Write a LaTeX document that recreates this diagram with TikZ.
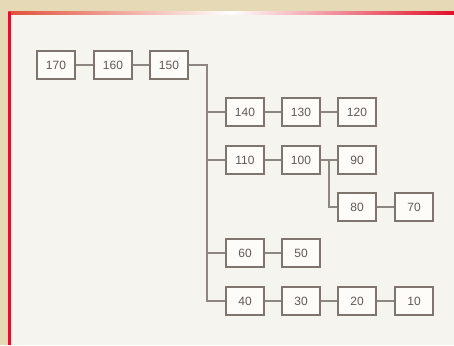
\documentclass[tikz,border=0pt]{standalone}
\usepackage{fontspec}
\setmainfont{Liberation Sans}
\definecolor{tan}{HTML}{E6D9B5}
\definecolor{panel}{HTML}{F5F4EE}
\definecolor{frame}{HTML}{E0102A}
\definecolor{topedge}{HTML}{E2503A}
\definecolor{boxline}{HTML}{7E766E}
\definecolor{boxfill}{HTML}{FDFCF8}
\definecolor{boxtext}{HTML}{5E5A55}
\definecolor{wire}{HTML}{8E8680}
\tikzset{
  x=1pt, y=-1pt,
  numbox/.style={draw=boxline, line width=1.4pt, fill=boxfill,
    minimum width=38pt, minimum height=28pt, inner sep=0pt,
    text=boxtext, font=\fontsize{12}{12}\selectfont},
  wirel/.style={draw=wire, line width=1.2pt}
}
\begin{document}
\begin{tikzpicture}
\useasboundingbox (0,0) rectangle (454,345);
% page background and panel
\fill[tan] (0,0) rectangle (454,345);
\fill[panel] (8,12) rectangle (454,345);
\shade[left color=topedge, right color=frame, middle color=white] (8,12) rectangle (454,15);
\fill[frame] (8,12) rectangle (11,345);

% boxes
\node[numbox] (n170) at (56,65) {170};
\node[numbox] (n160) at (113,65) {160};
\node[numbox] (n150) at (169,65) {150};

\node[numbox] (n140) at (245,112) {140};
\node[numbox] (n130) at (301,112) {130};
\node[numbox] (n120) at (357,112) {120};

\node[numbox] (n110) at (245,160) {110};
\node[numbox] (n100) at (301,160) {100};
\node[numbox] (n90)  at (357,160) {90};
\node[numbox] (n80)  at (357,207) {80};
\node[numbox] (n70)  at (414,207) {70};

\node[numbox] (n60) at (245,253) {60};
\node[numbox] (n50) at (301,253) {50};

\node[numbox] (n40) at (245,301) {40};
\node[numbox] (n30) at (301,301) {30};
\node[numbox] (n20) at (357,301) {20};
\node[numbox] (n10) at (414,301) {10};

% trunk junction and the fork below 100
\coordinate (trunk) at (207,65);
\coordinate (fork) at (329,160);

% connectors
\draw[wirel] (n170) -- (n160);
\draw[wirel] (n160) -- (n150);
\draw[wirel] (n150.east) -- (trunk) |- (n40.west);
\draw[wirel] (trunk |- n140) -- (n140.west);
\draw[wirel] (trunk |- n110) -- (n110.west);
\draw[wirel] (trunk |- n60) -- (n60.west);
\draw[wirel] (n140) -- (n130);
\draw[wirel] (n130) -- (n120);
\draw[wirel] (n110) -- (n100);
\draw[wirel] (n100) -- (n90);
\draw[wirel] (fork) |- (n80.west);
\draw[wirel] (n80) -- (n70);
\draw[wirel] (n60) -- (n50);
\draw[wirel] (n40) -- (n30);
\draw[wirel] (n30) -- (n20);
\draw[wirel] (n20) -- (n10);
\end{tikzpicture}
\end{document}
